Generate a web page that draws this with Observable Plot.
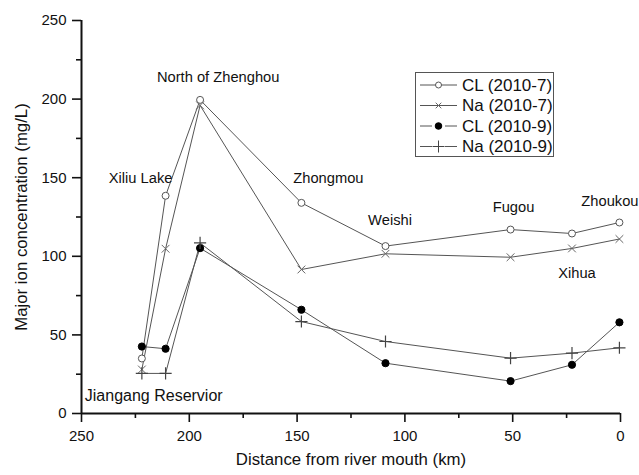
<!DOCTYPE html>
<html>
<head>
<meta charset="utf-8">
<script src="https://cdn.jsdelivr.net/npm/d3@7"></script>
<script src="https://cdn.jsdelivr.net/npm/@observablehq/plot@0.6"></script>
<style>
  body { margin: 0; background: #fff; }
  #wrap { position: relative; width: 639px; height: 475px; font-family: "Liberation Sans", Arial, sans-serif; }
  #legend { position: absolute; left: 0; top: 0; }
</style>
</head>
<body>
<div id="wrap"></div>
<script>
// Distance from river mouth (km)
const distance = [222, 211, 195, 148, 109, 51, 22.5, 0.5];
// Series values (mg/L)
const cl2010_7 = [35, 138.5, 199.5, 134, 106.5, 117, 114.5, 121.5];
const na2010_7 = [28, 104.8, 196, 91.6, 101.6, 99.4, 105, 111];
const cl2010_9 = [42.6, 41.2, 105.2, 66, 32, 20.6, 31, 58];
const na2010_9 = [25.5, 25.5, 108.5, 58.5, 45.8, 35.2, 38.4, 41.8];

const seriesNames = ["CL (2010-7)", "Na (2010-7)", "CL (2010-9)", "Na (2010-9)"];
const seriesValues = [cl2010_7, na2010_7, cl2010_9, na2010_9];

const xTicks = [250, 200, 150, 100, 50, 0];
const xMinor = [225, 175, 125, 75, 25];
const yTicks = [0, 50, 100, 150, 200, 250];
const yMinor = [25, 75, 125, 175, 225];

// Site annotations (label, distance, concentration)
const siteNames = ["North of Zhenghou", "Xiliu Lake", "Zhongmou", "Weishi", "Fugou", "Zhoukou", "Xihua", "Jiangang Reservior"];
const siteX = [186.6, 222.6, 135.5, 106.9, 49.6, 4.9, 20.2, 216.5];
const siteY = [213.7, 149.5, 149.5, 123.2, 131.5, 135.3, 88.9, 11.5];
const siteSize = [14.7, 14.7, 14.7, 14.7, 14.7, 14.7, 14.7, 16];

const styles = [
  {symbol: "circle", fill: "white", stroke: "#555", r: 3.5, sw: 1},
  {symbol: "times", fill: "none", stroke: "#666", r: 3.6, sw: 1},
  {symbol: "circle", fill: "black", stroke: "black", r: 3.6, sw: 1},
  {symbol: "plus", fill: "none", stroke: "#444", r: 4, sw: 1.2}
];

const rows = [];
seriesNames.forEach((name, i) => {
  distance.forEach((d, j) => rows.push({series: name, idx: i, x: d, y: seriesValues[i][j]}));
});
const sites = siteNames.map((t, i) => ({t, x: siteX[i], y: siteY[i], s: siteSize[i]}));

const marks = [];
// lines
seriesNames.forEach((name, i) => {
  marks.push(Plot.line(rows.filter(r => r.idx === i), {x: "x", y: "y", stroke: "#555", strokeWidth: 1}));
});
// markers
seriesNames.forEach((name, i) => {
  const s = styles[i];
  marks.push(Plot.dot(rows.filter(r => r.idx === i), {x: "x", y: "y", symbol: s.symbol, r: s.r, fill: s.fill, stroke: s.stroke, strokeWidth: s.sw}));
});

const chart = Plot.plot({
  width: 639,
  height: 475,
  marginLeft: 81,
  marginRight: 19,
  marginTop: 20,
  marginBottom: 62,
  style: {fontFamily: "'Liberation Sans', Arial, sans-serif", fontSize: "15px", color: "#111", background: "white"},
  x: {domain: [250, 0], label: null},
  y: {domain: [0, 250], label: null},
  marks: [
    Plot.axisX({ticks: xMinor, tickSize: 5, tickFormat: () => "", strokeWidth: 1.6, label: null}),
    Plot.axisX({ticks: xTicks, tickSize: 9, tickPadding: 8, strokeWidth: 1.6, fontSize: 15, label: null}),
    Plot.axisY({ticks: yMinor, tickSize: 5, tickFormat: () => "", strokeWidth: 1.6, label: null}),
    Plot.axisY({ticks: yTicks, tickSize: 9, tickPadding: 6, strokeWidth: 1.6, fontSize: 15, label: null}),
    Plot.ruleY([0], {stroke: "#111", strokeWidth: 2}),
    Plot.ruleX([250], {stroke: "#111", strokeWidth: 2}),
    ...marks,
    Plot.text(sites.filter(d => d.s < 15), {x: "x", y: "y", text: "t", fontSize: 14.7, fill: "#111"}),
    Plot.text(sites.filter(d => d.s >= 15), {x: "x", y: "y", text: "t", fontSize: 16, fill: "#111"}),
    Plot.text(["Distance from river mouth (km)"], {frameAnchor: "bottom", dy: 51, text: d => d, fontSize: 16.8, fill: "#111"}),
    Plot.text(["Major ion concentration (mg/L)"], {frameAnchor: "left", textAnchor: "middle", dx: -60, rotate: -90, text: d => d, fontSize: 16.8, fill: "#111"})
  ]
});

const wrap = document.getElementById("wrap");
wrap.appendChild(chart);

// Legend overlay
const lg = d3.select(wrap).append("svg")
  .attr("id", "legend")
  .attr("width", 639).attr("height", 475);
lg.append("rect").attr("x", 415.5).attr("y", 72.5).attr("width", 138).attr("height", 84)
  .attr("fill", "white").attr("stroke", "#555").attr("stroke-width", 1);
const rowY = [85, 105.5, 126, 146.5];
const symPath = {
  times: r => `M${-r*0.7},${-r*0.7}L${r*0.7},${r*0.7}M${r*0.7},${-r*0.7}L${-r*0.7},${r*0.7}`,
  plus: r => `M${-r},0L${r},0M0,${-r}L0,${r}`
};
seriesNames.forEach((name, i) => {
  const s = styles[i];
  const g = lg.append("g").attr("transform", `translate(0,${rowY[i]})`);
  if (i >= 2) {
    g.append("line").attr("x1", 420).attr("x2", 432).attr("y1", 0).attr("y2", 0).attr("stroke", "#555");
    g.append("line").attr("x1", 445).attr("x2", 457).attr("y1", 0).attr("y2", 0).attr("stroke", "#555");
  } else {
    g.append("line").attr("x1", 420).attr("x2", 457).attr("y1", 0).attr("y2", 0).attr("stroke", "#555");
  }
  if (s.symbol === "circle") {
    g.append("circle").attr("cx", 438.5).attr("cy", 0).attr("r", i === 0 ? 3 : 3.3)
      .attr("fill", s.fill).attr("stroke", s.stroke);
  } else {
    g.append("path").attr("transform", "translate(438.5,0)")
      .attr("d", symPath[s.symbol](s.symbol === "plus" ? 6 : 4))
      .attr("fill", "none").attr("stroke", s.stroke).attr("stroke-width", 1);
  }
  g.append("text").attr("x", 462).attr("y", 0).attr("dy", "0.35em")
    .attr("font-size", 17).attr("fill", "#111")
    .attr("font-family", "'Liberation Sans', Arial, sans-serif").text(name);
});
</script>
</body>
</html>
